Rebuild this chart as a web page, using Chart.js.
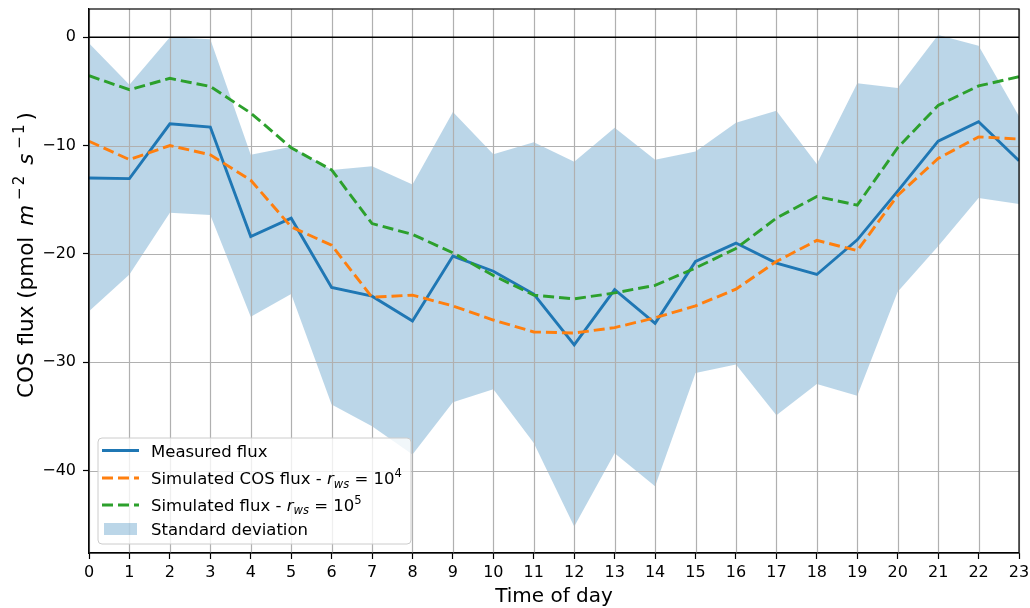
<!DOCTYPE html>
<html>
<head>
<meta charset="utf-8">
<title>COS flux by time of day</title>
<script src="https://cdn.jsdelivr.net/npm/chart.js@4.4.1/dist/chart.umd.min.js"></script>
<style>
  html, body { margin: 0; padding: 0; background: #ffffff; }
  #wrap { width: 1030px; height: 608px; }
</style>
</head>
<body>
<div id="wrap"><canvas id="chart" width="1030" height="608"></canvas></div>
<script>
// ---- data -------------------------------------------------------------
const hours = [0, 1, 2, 3, 4, 5, 6, 7, 8, 9, 10, 11, 12, 13, 14, 15, 16, 17, 18, 19, 20, 21, 22, 23];
const hourTicks = hours;
const fluxTicks = [-40, -30, -20, -10, 0];

const measuredFlux = [-13.0, -13.05, -8.0, -8.3, -18.4, -16.7, -23.1, -23.9, -26.2, -20.2, -21.6, -23.7,
                      -28.4, -23.3, -26.4, -20.7, -19.0, -20.85, -21.9, -18.7, -14.2, -9.6, -7.8, -11.4];
const simulatedRws1e4 = [-9.6, -11.3, -10.0, -10.85, -13.2, -17.5, -19.2, -24.0, -23.8, -24.8, -26.1, -27.2,
                         -27.3, -26.8, -25.9, -24.8, -23.25, -20.7, -18.75, -19.7, -14.6, -11.2, -9.2, -9.4];
const simulatedRws1e5 = [-3.55, -4.85, -3.8, -4.55, -7.0, -10.2, -12.25, -17.2, -18.2, -19.9, -22.0, -23.8,
                         -24.15, -23.6, -22.9, -21.3, -19.5, -16.7, -14.7, -15.5, -10.2, -6.3, -4.5, -3.65];
const stdUpper = [-0.55, -4.4, 0.0, -0.2, -10.85, -10.1, -12.25, -11.9, -13.6, -6.9, -10.8, -9.7,
                  -11.5, -8.35, -11.3, -10.55, -7.9, -6.8, -11.7, -4.25, -4.7, 0.2, -0.8, -7.3];
const stdLower = [-25.3, -21.9, -16.2, -16.4, -25.8, -23.7, -33.9, -35.9, -38.5, -33.7, -32.5, -37.45,
                  -45.15, -38.4, -41.45, -31.0, -30.2, -34.9, -32.0, -33.1, -23.5, -19.3, -14.85, -15.4];

// ---- styling ----------------------------------------------------------
const FONT = '"DejaVu Sans", "Liberation Sans", sans-serif';
const BLUE = '#1f77b4';
const ORANGE = '#ff7f0e';
const GREEN = '#2ca02c';
const BAND = 'rgba(31, 119, 180, 0.3)';
const GRID = '#b0b0b0';
const DASH = [11, 5];
const LINE_W = 2.9;
const BAND_UPPER_INDEX = 1;

function points(values) {
  return hours.map((h, i) => ({ x: h, y: values[i] }));
}

// Draws a run of text pieces (plain, italic, super/subscript, gaps) from x on baseline y.
function drawRuns(ctx, runs, x, y, size, measureOnly) {
  let cx = x;
  for (const r of runs) {
    if (r.gap) { cx += r.gap; continue; }
    const s = (r.sup || r.sub) ? size * 0.7 : size;
    ctx.font = (r.it ? 'italic ' : '') + s + 'px ' + FONT;
    const dy = r.sup ? -size * 0.42 : (r.sub ? size * 0.22 : 0);
    if (!measureOnly) ctx.fillText(r.t, cx, y + dy);
    cx += ctx.measureText(r.t).width;
  }
  return cx - x;
}

const yTitleRuns = [
  { t: 'COS flux (pmol ' }, { gap: 4 }, { t: 'm', it: true }, { gap: 5 }, { t: '\u2212', sup: true },
  { gap: 2 }, { t: '2', sup: true }, { gap: 4 }, { t: ' ' }, { t: 's', it: true }, { gap: 5 },
  { t: '\u2212', sup: true }, { gap: 2 }, { t: '1', sup: true }, { gap: 4 }, { t: ')' }
];
const Y_TITLE_SIZE = 21.5;

const legendRows = [
  { kind: 'line', color: BLUE, dash: [], lineY: 450.5, base: 457,
    runs: [{ t: 'Measured flux' }] },
  { kind: 'line', color: ORANGE, dash: DASH, lineY: 478, base: 484,
    runs: [{ t: 'Simulated COS flux - ' }, { t: 'r', it: true }, { t: 'ws', it: true, sub: true },
           { t: ' = 10' }, { t: '4', sup: true }] },
  { kind: 'line', color: GREEN, dash: DASH, lineY: 505, base: 510.5,
    runs: [{ t: 'Simulated flux - ' }, { t: 'r', it: true }, { t: 'ws', it: true, sub: true },
           { t: ' = 10' }, { t: '5', sup: true }] },
  { kind: 'patch', color: BAND, base: 535,
    runs: [{ t: 'Standard deviation' }] }
];

const decorations = {
  id: 'decorations',
  // grid and zero line go on top of the shaded band, beneath the flux lines
  afterDatasetDraw(chart, args) {
    if (args.index !== BAND_UPPER_INDEX) return;
    const { ctx, chartArea: a, scales: { x, y } } = chart;
    ctx.save();
    ctx.strokeStyle = GRID;
    ctx.lineWidth = 1.2;
    ctx.beginPath();
    for (const h of hourTicks) {
      const px = Math.round(x.getPixelForValue(h)) + 0.5;
      ctx.moveTo(px, a.top); ctx.lineTo(px, a.bottom);
    }
    for (const v of fluxTicks) {
      const py = Math.round(y.getPixelForValue(v)) + 0.5;
      ctx.moveTo(a.left, py); ctx.lineTo(a.right, py);
    }
    ctx.stroke();
    const py0 = y.getPixelForValue(0);
    ctx.strokeStyle = '#000';
    ctx.lineWidth = 1.4;
    ctx.beginPath();
    ctx.moveTo(a.left, py0);
    ctx.lineTo(a.right, py0);
    ctx.stroke();
    ctx.restore();
  },
  afterDraw(chart) {
    const { ctx, chartArea: a } = chart;
    ctx.save();

    // spines
    ctx.strokeStyle = '#000';
    ctx.lineWidth = 1.2;
    ctx.strokeRect(a.left, a.top, a.right - a.left, a.bottom - a.top);

    // axis titles
    ctx.fillStyle = '#000';
    ctx.textBaseline = 'alphabetic';
    ctx.textAlign = 'left';
    ctx.font = '20px ' + FONT;
    const xt = 'Time of day';
    const xw = ctx.measureText(xt).width;
    ctx.fillText(xt, (a.left + a.right) / 2 - xw / 2, 602);

    const tw = drawRuns(ctx, yTitleRuns, 0, 0, Y_TITLE_SIZE, true);
    ctx.save();
    ctx.translate(33, 255);
    ctx.rotate(-Math.PI / 2);
    drawRuns(ctx, yTitleRuns, -tw / 2, 0, Y_TITLE_SIZE, false);
    ctx.restore();

    // legend
    const lx = 98, ly = 438, lw = 313, lh = 106, rad = 4;
    ctx.beginPath();
    ctx.moveTo(lx + rad, ly);
    ctx.arcTo(lx + lw, ly, lx + lw, ly + lh, rad);
    ctx.arcTo(lx + lw, ly + lh, lx, ly + lh, rad);
    ctx.arcTo(lx, ly + lh, lx, ly, rad);
    ctx.arcTo(lx, ly, lx + lw, ly, rad);
    ctx.closePath();
    ctx.fillStyle = 'rgba(255,255,255,0.8)';
    ctx.fill();
    ctx.strokeStyle = '#cccccc';
    ctx.lineWidth = 1;
    ctx.stroke();

    for (const row of legendRows) {
      if (row.kind === 'line') {
        ctx.strokeStyle = row.color;
        ctx.lineWidth = LINE_W;
        ctx.setLineDash(row.dash);
        ctx.beginPath();
        ctx.moveTo(102, row.lineY);
        ctx.lineTo(139, row.lineY);
        ctx.stroke();
        ctx.setLineDash([]);
      } else {
        ctx.fillStyle = row.color;
        ctx.fillRect(104, 523, 33, 12);
      }
      ctx.fillStyle = '#000';
      drawRuns(ctx, row.runs, 151, row.base, 16.5, false);
    }
    ctx.restore();
  }
};

const tickFont = { family: FONT, size: 16 };

new Chart(document.getElementById('chart'), {
  type: 'line',
  data: {
    datasets: [
      { label: 'Standard deviation (lower)', data: points(stdLower), borderWidth: 0,
        pointRadius: 0, fill: false, order: 5, borderColor: 'rgba(0,0,0,0)' },
      { label: 'Standard deviation', data: points(stdUpper), borderWidth: 0,
        pointRadius: 0, fill: '-1', backgroundColor: BAND, order: 4, borderColor: 'rgba(0,0,0,0)' },
      { label: 'Measured flux', data: points(measuredFlux), borderColor: BLUE, borderWidth: LINE_W,
        pointRadius: 0, fill: false, order: 3, tension: 0 },
      { label: 'Simulated COS flux - r_ws = 10^4', data: points(simulatedRws1e4), borderColor: ORANGE,
        borderWidth: LINE_W, borderDash: DASH, pointRadius: 0, fill: false, order: 2, tension: 0 },
      { label: 'Simulated flux - r_ws = 10^5', data: points(simulatedRws1e5), borderColor: GREEN,
        borderWidth: LINE_W, borderDash: DASH, pointRadius: 0, fill: false, order: 1, tension: 0 }
    ]
  },
  options: {
    responsive: false,
    animation: false,
    devicePixelRatio: 1,
    layout: { padding: { left: 0, right: 11, top: 9, bottom: 0 } },
    plugins: {
      legend: { display: false },
      tooltip: { enabled: false },
      filler: { propagate: false }
    },
    scales: {
      x: {
        type: 'linear', min: 0, max: 23,
        afterBuildTicks: s => { s.ticks = hourTicks.map(v => ({ value: v })); },
        afterFit: s => { s.height = 55; s.paddingLeft = 0; s.paddingRight = 0; },
        ticks: { font: tickFont, color: '#000', padding: 4, maxRotation: 0, autoSkip: false },
        grid: { drawOnChartArea: false, tickColor: '#000', tickLength: 6, tickWidth: 1.2 },
        border: { color: '#000', width: 1.2 }
      },
      y: {
        type: 'linear', min: -47.6, max: 2.6,
        afterBuildTicks: s => { s.ticks = fluxTicks.map(v => ({ value: v })); },
        afterFit: s => { s.width = 89; s.paddingTop = 0; s.paddingBottom = 0; },
        ticks: {
          font: tickFont, color: '#000', padding: 7,
          callback: v => (v < 0 ? '\u2212' + Math.abs(v) : String(v))
        },
        grid: { drawOnChartArea: false, tickColor: '#000', tickLength: 6, tickWidth: 1.2 },
        border: { color: '#000', width: 1.2 }
      }
    }
  },
  plugins: [decorations]
});
</script>
</body>
</html>
